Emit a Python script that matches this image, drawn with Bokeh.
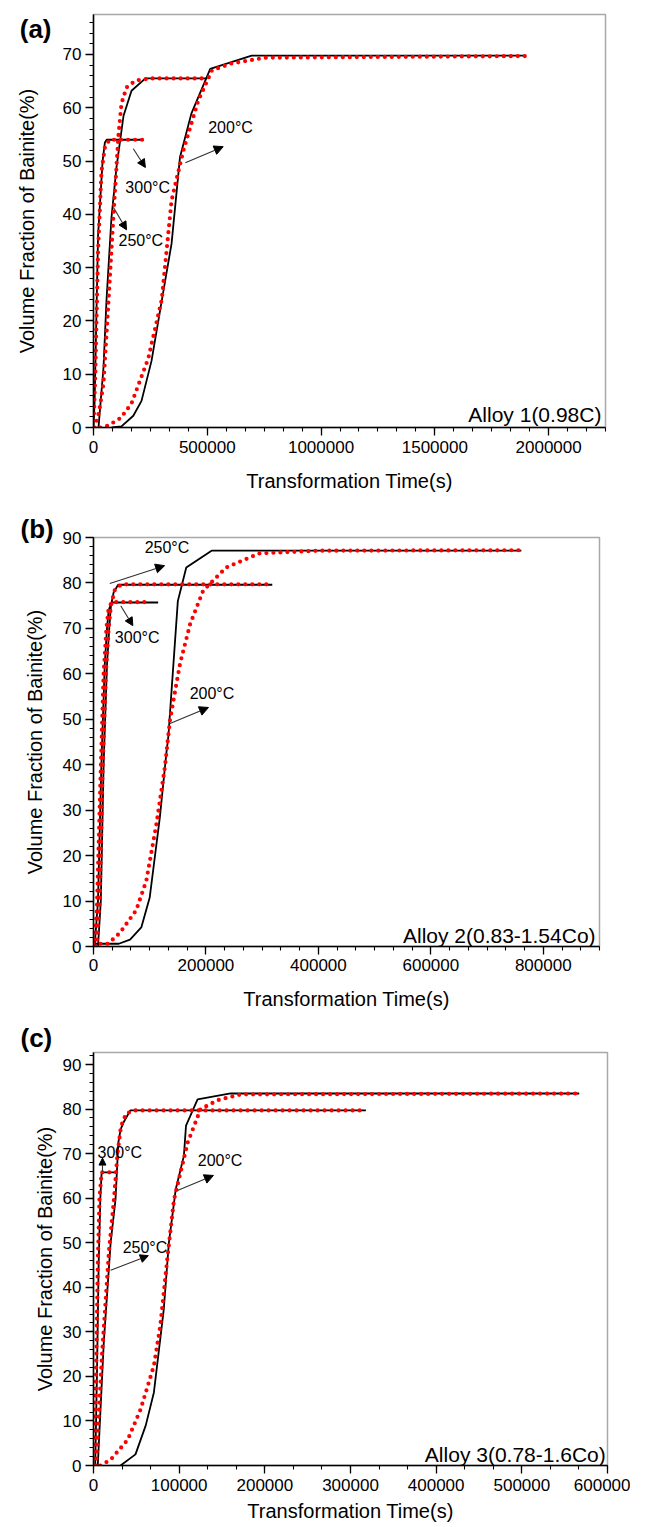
from bokeh.plotting import figure
from bokeh.layouts import column
from bokeh.models import (Range1d, SingleIntervalTicker, BasicTickFormatter, FixedTicker,
                          LinearAxis, Label, Arrow, NormalHead)
from bokeh.embed import file_html
from bokeh.resources import INLINE

FONT = "Liberation Sans"

# ---------------- Panel (a): Alloy 1(0.98C) ----------------
a_t200_black = [80000, 123000, 175000, 211000, 255000, 300000, 343000, 380000, 430000, 513000, 695000, 1900000]
a_v200_black = [0, 0.2, 2.2, 5.0, 12.5, 23.8, 34.5, 50.7, 58.9, 67.3, 69.8, 69.8]
a_t200_red = [30000, 66000, 120000, 167000, 241000, 300000, 343000, 395000, 460000, 520000, 605000, 754000, 1900000]
a_v200_red = [0, 0.4, 1.8, 4.5, 13.0, 24.0, 42.6, 52.0, 61.3, 67.0, 68.3, 69.4, 69.7]
a_t250_black = [22000, 44000, 57000, 79000, 101000, 132000, 167000, 228000, 500000]
a_v250_black = [0, 11.3, 23.8, 39.4, 48.8, 58.5, 63.2, 65.5, 65.5]
a_t250_red = [5000, 25000, 44000, 66000, 88000, 110000, 123000, 145000, 184000, 250000, 500000]
a_v250_red = [0, 3.0, 8.3, 23.8, 40.0, 55.0, 60.8, 63.8, 65.1, 65.5, 65.5]
a_t300_black = [0, 5000, 20000, 40000, 50000, 58000, 220000]
a_v300_black = [0, 5.0, 36.0, 50.0, 53.5, 54.0, 54.0]
a_t300_red = [0, 8000, 20000, 35000, 50000, 70000, 220000]
a_v300_red = [0, 10.0, 33.0, 48.0, 52.5, 54.0, 54.0]

# ---------------- Panel (b): Alloy 2(0.83-1.54Co) ----------------
b_t200_black = [0, 45000, 65000, 85000, 100000, 118000, 130000, 133000, 150000, 165000, 210000, 761000]
b_v200_black = [0.6, 0.6, 1.5, 4.2, 10.8, 28.4, 43.0, 46.0, 76.0, 83.4, 87.1, 87.1]
b_t200_red = [0, 26000, 47000, 76000, 94000, 112000, 127000, 136000, 154000, 172000, 195000, 236000, 295000, 400000, 761000]
b_v200_red = [0.6, 0.6, 3.0, 8.0, 14.5, 27.0, 39.5, 49.8, 62.3, 71.0, 78.3, 83.4, 86.5, 87.1, 87.2]
b_t250_black = [8000, 13000, 18000, 24000, 28000, 31000, 36000, 44000, 318000]
b_v250_black = [0, 10.0, 40.0, 62.0, 70.0, 75.0, 78.0, 79.6, 79.6]
b_t250_red = [5000, 11000, 16000, 22000, 27000, 31000, 38000, 50000, 318000]
b_v250_red = [0, 10.0, 38.0, 60.0, 70.0, 75.0, 78.5, 79.7, 79.7]
b_t300_black = [2000, 8000, 14000, 20000, 24000, 27000, 32000, 115000]
b_v300_black = [0, 10.0, 40.0, 62.0, 70.0, 74.0, 75.7, 75.7]
b_t300_red = [1000, 6000, 12000, 18000, 23000, 27000, 33000, 92000]
b_v300_red = [0, 8.0, 35.0, 60.0, 70.0, 74.5, 75.8, 75.8]

# ---------------- Panel (c): Alloy 3(0.78-1.6Co) ----------------
c_t200_black = [31600, 49000, 61000, 70500, 82000, 88000, 96000, 105500, 108000, 121500, 160000, 567000]
c_v200_black = [0, 2.5, 9.0, 16.4, 35.0, 50.0, 62.0, 69.5, 76.3, 82.2, 83.5, 83.5]
c_t200_red = [8000, 20000, 40000, 55000, 70500, 78000, 86500, 94000, 110000, 125000, 145000, 172000, 567000]
c_v200_red = [0, 1.3, 5.8, 12.6, 22.4, 31.4, 47.0, 59.7, 72.5, 80.0, 82.0, 83.3, 83.5]
c_t250_black = [5000, 12000, 20000, 25700, 29000, 31600, 35000, 43000, 318000]
c_v250_black = [0, 27.6, 50.0, 59.7, 72.5, 75.4, 77.0, 79.7, 79.7]
c_t250_red = [3000, 10000, 18000, 24000, 28000, 32000, 38000, 48000, 318000]
c_v250_red = [0, 25.0, 48.0, 60.0, 70.0, 76.0, 79.0, 79.7, 79.7]
c_t300_black = [2000, 4000, 6000, 8000, 9500, 26000]
c_v300_black = [0, 20.0, 45.0, 60.0, 65.8, 65.8]
c_t300_red = [0, 3000, 5000, 7000, 9500, 26000]
c_v300_red = [0, 20.0, 45.0, 60.0, 65.8, 65.8]

panel_tags = ["(a)", "(b)", "(c)"]
alloy_names = ["Alloy 1(0.98C)", "Alloy 2(0.83-1.54Co)", "Alloy 3(0.78-1.6Co)"]
temp_labels = ["200°C", "250°C", "300°C"]
x_title = "Transformation Time(s)"
y_title = "Volume Fraction of Bainite(%)"


def make_panel(cfg):
    p = figure(frame_width=cfg["fw"], frame_height=cfg["fh"],
               min_border_left=cfg["bl"], min_border_right=31,
               min_border_top=cfg["bt"], min_border_bottom=cfg["bb"],
               x_range=Range1d(0, cfg["xmax"]), y_range=Range1d(0, cfg["ymax"]),
               output_backend="svg", toolbar_location=None,
               background_fill_color="white", border_fill_color="white")
    p.grid.visible = False
    p.outline_line_color = "#a8a8a8"
    p.outline_line_width = 1.5

    p.xaxis.ticker = SingleIntervalTicker(interval=cfg["xint"], num_minor_ticks=cfg["xminor"])
    p.yaxis.ticker = SingleIntervalTicker(interval=10, num_minor_ticks=5)
    p.xaxis.formatter = BasicTickFormatter(use_scientific=False)
    for ax in (p.xaxis[0], p.yaxis[0]):
        ax.axis_line_color = "black"
        ax.axis_line_width = 1.5
        ax.major_tick_line_color = "black"
        ax.minor_tick_line_color = "black"
        ax.major_tick_line_width = 1.3
        ax.minor_tick_line_width = 1.1
        ax.major_tick_out = 8
        ax.major_tick_in = 0
        ax.minor_tick_out = 4
        ax.minor_tick_in = 0
        ax.major_label_text_font = FONT
        ax.major_label_text_font_size = "17px"
        ax.major_label_text_color = "black"
        ax.axis_label_text_font = FONT
        ax.axis_label_text_font_size = "20px"
        ax.axis_label_text_font_style = "normal"
        ax.axis_label_text_color = "black"
    p.xaxis.axis_label = x_title
    p.yaxis.axis_label = y_title
    p.xaxis.major_label_standoff = cfg["xls"]
    p.xaxis.axis_label_standoff = cfg["xlstand"]
    p.yaxis.major_label_standoff = 4
    p.yaxis.axis_label_standoff = cfg["ylstand"]

    for tb, vb in cfg["black"]:
        p.line(tb, vb, line_color="black", line_width=1.8)
    for tr, vr in cfg["red"]:
        p.line(tr, vr, line_color="#ff0000", line_width=4.2, line_dash="0 7",
               line_cap="round", line_join="round")

    for (txt, x, y) in cfg["labels"]:
        p.add_layout(Label(x=x, y=y, text=txt, text_font=FONT, text_font_size="16px",
                           text_align="left", text_baseline="middle", text_color="black"))
    for (x0, y0, x1, y1, s) in cfg["arrows"]:
        p.add_layout(Arrow(x_start=x0, y_start=y0, x_end=x1, y_end=y1,
                           line_color="#303030", line_width=1.1,
                           end=NormalHead(size=s, fill_color="black", line_color="black")))

    p.add_layout(Label(x=cfg["alloy_x"], y=cfg["alloy_y"], text=cfg["alloy"],
                       text_font=FONT, text_font_size="21px", text_align="right",
                       text_baseline="alphabetic", text_color="black"))

    if cfg["tag_mode"] == "axis":
        # tag beside the frame: an unlabeled extra left axis carrying one label
        ty = cfg["tag_y"]
        tag_ax = LinearAxis(ticker=FixedTicker(ticks=[ty], minor_ticks=[]),
                            major_label_overrides={ty: cfg["tag"]},
                            axis_line_color=None, major_tick_line_color=None,
                            minor_tick_line_color=None, major_tick_out=0, major_tick_in=0,
                            minor_tick_out=0, minor_tick_in=0,
                            major_label_standoff=cfg["tag_standoff"],
                            major_label_text_font=FONT, major_label_text_font_size="26px",
                            major_label_text_font_style="bold", major_label_text_color="black")
        p.add_layout(tag_ax, "left")
    else:
        p.title.text = cfg["tag"]
        p.title.align = "left"
        p.title.offset = cfg["tag_offset"]
        p.title.standoff = cfg["tag_standoff"]
        p.title.text_font = FONT
        p.title.text_font_size = "26px"
        p.title.text_font_style = "bold"
        p.title.text_color = "black"
        p.title.vertical_align = "bottom"
    return p


cfg_a = dict(fw=512, fh=413, bl=87, bt=14, bb=70, xmax=2250000, ymax=77.5,
             xint=500000, xminor=6, ylstand=22, xls=5, xlstand=14,
             black=[(a_t200_black, a_v200_black), (a_t250_black, a_v250_black), (a_t300_black, a_v300_black)],
             red=[(a_t200_red, a_v200_red), (a_t250_red, a_v250_red), (a_t300_red, a_v300_red)],
             labels=[(temp_labels[0], 504000, 56.3), (temp_labels[2], 140000, 45.0), (temp_labels[1], 110000, 35.0)],
             arrows=[(403500, 49.7, 570000, 52.7, 9), (175000, 52.3, 228000, 48.8, 8), (88000, 41.3, 145000, 37.1, 8)],
             alloy=alloy_names[0], alloy_x=2232000, alloy_y=2.4,
             tag=panel_tags[0], tag_mode="axis", tag_y=74.8, tag_standoff=-39)

cfg_b = dict(fw=506, fh=409, bl=93, bt=40, bb=64, xmax=900000, ymax=90,
             xint=200000, xminor=6, ylstand=14, xls=4, xlstand=14,
             black=[(b_t200_black, b_v200_black), (b_t250_black, b_v250_black), (b_t300_black, b_v300_black)],
             red=[(b_t200_red, b_v200_red), (b_t250_red, b_v250_red), (b_t300_red, b_v300_red)],
             labels=[(temp_labels[1], 91000, 87.8), (temp_labels[2], 38000, 68.0), (temp_labels[0], 171000, 55.7)],
             arrows=[(29000, 79.9, 126500, 83.8, 9), (48500, 75.0, 70000, 70.6, 8), (135000, 49.0, 204500, 52.6, 9)],
             alloy=alloy_names[1], alloy_x=893000, alloy_y=2.4,
             tag=panel_tags[1], tag_mode="title", tag_offset=-73, tag_standoff=-12)

cfg_c = dict(fw=514, fh=413, bl=85, bt=40, bb=56, xmax=600000, ymax=92.7,
             xint=100000, xminor=3, ylstand=4, xls=5, xlstand=6,
             black=[(c_t200_black, c_v200_black), (c_t250_black, c_v250_black), (c_t300_black, c_v300_black)],
             red=[(c_t200_red, c_v200_red), (c_t250_red, c_v250_red), (c_t300_red, c_v300_red)],
             labels=[(temp_labels[2], 4700, 70.2), (temp_labels[1], 34000, 49.0), (temp_labels[0], 121700, 68.4)],
             arrows=[(10500, 66.0, 10500, 69.0, 7), (20000, 43.8, 64000, 47.1, 8), (98000, 61.7, 140000, 65.1, 9)],
             alloy=alloy_names[2], alloy_x=598000, alloy_y=2.5,
             tag=panel_tags[2], tag_mode="title", tag_offset=-73, tag_standoff=0)

pa = make_panel(cfg_a)
pb = make_panel(cfg_b)
pc = make_panel(cfg_c)

layout = column(pa, pb, pc, spacing=0)
open("out.html", "w").write(file_html(layout, INLINE))
